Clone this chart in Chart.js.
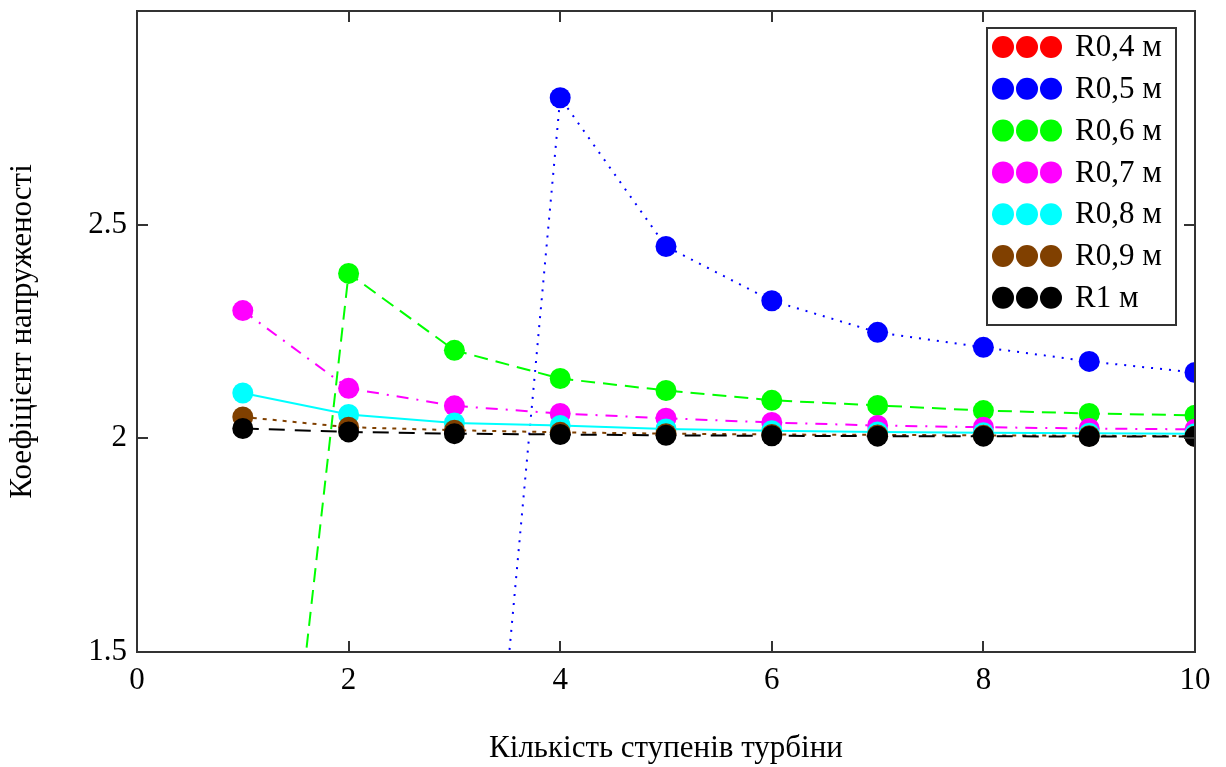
<!DOCTYPE html>
<html>
<head>
<meta charset="utf-8">
<script src="https://cdn.jsdelivr.net/npm/chart.js@4.4.1/dist/chart.umd.min.js"></script>
<style>
  html, body { margin: 0; padding: 0; background: #fff; }
  #wrap { width: 1226px; height: 767px; }
</style>
</head>
<body>
<div id="wrap"><canvas id="grafico" width="1226" height="767"></canvas></div>
<script>
// Кількість ступенів турбіни
const stupeni = [1, 2, 3, 4, 5, 6, 7, 8, 9, 10];

// Коефіцієнт напруженості для кожного радіуса (R0,4 м не потрапляє у вікно графіка)
const r04 = [null, null, null, null, null, null, null, null, null, null];
const r05 = [null, null, 0.1, 2.797, 2.449, 2.322, 2.248, 2.213, 2.180, 2.154];
const r06 = [0.18, 2.386, 2.206, 2.140, 2.112, 2.089, 2.077, 2.065, 2.058, 2.054];
const r07 = [2.299, 2.117, 2.076, 2.058, 2.047, 2.037, 2.030, 2.026, 2.023, 2.021];
const r08 = [2.106, 2.056, 2.036, 2.030, 2.022, 2.018, 2.015, 2.013, 2.012, 2.011];
const r09 = [2.050, 2.026, 2.019, 2.014, 2.011, 2.009, 2.008, 2.007, 2.006, 2.005];
const r1 = [2.023, 2.015, 2.011, 2.009, 2.007, 2.006, 2.005, 2.005, 2.004, 2.004];

const nazvy = ["R0,4 м", "R0,5 м", "R0,6 м", "R0,7 м", "R0,8 м", "R0,9 м", "R1 м"];
const kolory = ["#ff0000", "#0000ff", "#00ff00", "#ff00ff", "#00ffff", "#804000", "#000000"];
const shtrykhy = [[], [2, 7], [14, 8], [12, 8, 2, 8], [], [4, 6], [16, 10]];
const seriyi = [r04, r05, r06, r07, r08, r09, r1];

const xTicks = [0, 2, 4, 6, 8, 10];
const yTicks = [1.5, 2, 2.5];

const shryft = "'Liberation Serif', 'Times New Roman', serif";

function zrobytyNabir(i) {
  return {
    label: nazvy[i],
    data: stupeni.map((x, k) => ({ x: x, y: seriyi[i][k] })),
    borderColor: kolory[i],
    backgroundColor: kolory[i],
    borderWidth: 2,
    borderDash: shtrykhy[i],
    pointRadius: 10.5,
    pointHoverRadius: 10.5,
    pointBorderWidth: 0,
    spanGaps: false,
    order: seriyi.length - i,
  };
}

// Рамка і внутрішні риски
const ramka = {
  id: "ramka",
  afterDatasetsDraw(chart) {
    const { ctx, chartArea: a, scales } = chart;
    ctx.save();
    ctx.strokeStyle = "#333";
    ctx.lineWidth = 2;
    ctx.strokeRect(a.left, a.top, a.right - a.left, a.bottom - a.top);
    ctx.beginPath();
    xTicks.forEach((t) => {
      const px = Math.round(scales.x.getPixelForValue(t));
      ctx.moveTo(px, a.bottom); ctx.lineTo(px, a.bottom - 11);
      ctx.moveTo(px, a.top); ctx.lineTo(px, a.top + 11);
    });
    yTicks.forEach((t) => {
      const py = Math.round(scales.y.getPixelForValue(t));
      ctx.moveTo(a.left, py); ctx.lineTo(a.left + 11, py);
      ctx.moveTo(a.right, py); ctx.lineTo(a.right - 11, py);
    });
    ctx.stroke();
    ctx.restore();
  },
};

// Легенда з трьома кружечками
const legenda = {
  id: "legenda",
  afterDraw(chart) {
    const ctx = chart.ctx;
    const x0 = 987, y0 = 28, w = 189, h = 297;
    ctx.save();
    ctx.fillStyle = "#fff";
    ctx.fillRect(x0, y0, w, h);
    ctx.strokeStyle = "#333";
    ctx.lineWidth = 2;
    ctx.strokeRect(x0, y0, w, h);
    ctx.font = "31px " + shryft;
    ctx.textBaseline = "middle";
    chart.data.datasets.forEach((ds, i) => {
      const cy = 47 + i * 41.8;
      ctx.fillStyle = ds.backgroundColor;
      [1003, 1027, 1051].forEach((cx) => {
        ctx.beginPath();
        ctx.arc(cx, cy, 11, 0, Math.PI * 2);
        ctx.fill();
      });
      ctx.fillStyle = "#000";
      ctx.fillText(ds.label, 1075, cy + 1);
    });
    ctx.restore();
  },
};

const ctx = document.getElementById("grafico").getContext("2d");

const grafik = new Chart(ctx, {
  type: "line",
  data: {
    datasets: seriyi.map((s, i) => zrobytyNabir(i)),
  },
  options: {
    responsive: false,
    animation: false,
    layout: { padding: { top: 11, right: 31, left: 0, bottom: 0 } },
    plugins: {
      legend: { display: false },
      tooltip: { enabled: false },
    },
    scales: {
      x: {
        type: "linear",
        min: 0,
        max: 10,
        afterBuildTicks: (s) => { s.ticks = xTicks.map((v) => ({ value: v })); },
        afterFit: (s) => { s.height = 115; s.paddingLeft = 0; s.paddingRight = 0; },
        grid: { display: false, drawTicks: false },
        border: { display: false },
        ticks: { color: "#000", font: { family: shryft, size: 31 }, padding: 10, maxRotation: 0, callback: (v) => String(v) },
        title: {
          display: true,
          text: "Кількість ступенів турбіни",
          color: "#000",
          font: { family: shryft, size: 31 },
          padding: { top: 0, bottom: 0 },
        },
      },
      y: {
        type: "linear",
        min: 1.5,
        max: 3,
        afterBuildTicks: (s) => { s.ticks = yTicks.map((v) => ({ value: v })); },
        afterFit: (s) => { s.width = 137; s.paddingTop = 0; s.paddingBottom = 0; },
        grid: { display: false, drawTicks: false },
        border: { display: false },
        ticks: { color: "#000", font: { family: shryft, size: 31 }, padding: 10, callback: (v) => String(v) },
        title: {
          display: true,
          text: "Коефіцієнт напруженості",
          color: "#000",
          font: { family: shryft, size: 31 },
          padding: { top: 4, bottom: 0 },
        },
      },
    },
  },
  plugins: [ramka, legenda],
});
</script>
</body>
</html>
